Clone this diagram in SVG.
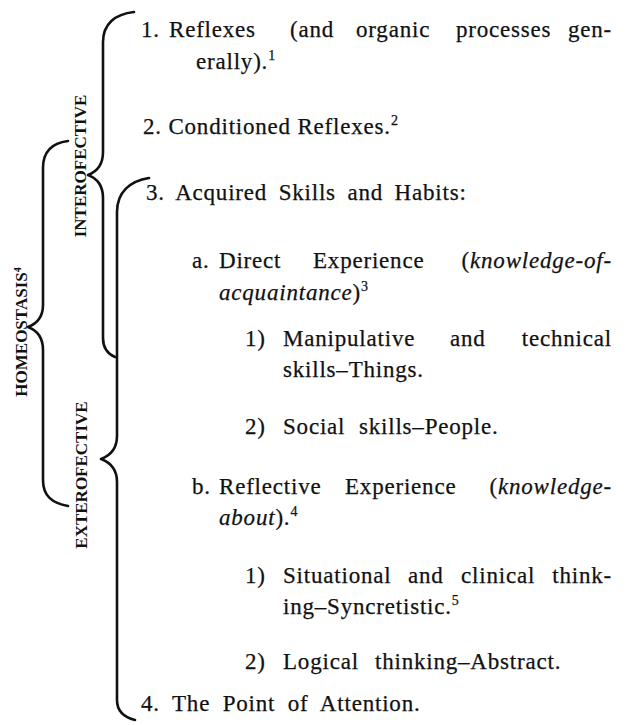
<svg xmlns="http://www.w3.org/2000/svg" width="631" height="725" viewBox="0 0 631 725">
  <style>
    .t { font-family: "Liberation Serif", "Times New Roman", serif; font-size: 23px; fill: #111; stroke: #111; stroke-width: 0.25px; letter-spacing: 0.8px; }
    .e { text-anchor: end; }
    .i { font-style: italic; }
    .sup { font-size: 14px; }
    .lab { font-family: "Liberation Serif", "Times New Roman", serif; font-size: 17px; font-weight: bold; fill: #111; text-anchor: middle; }
    .brace { fill: none; stroke: #111; stroke-width: 2.6; stroke-linecap: round; stroke-linejoin: round; }
  </style>
  <rect width="631" height="725" fill="#ffffff"/>

  <!-- braces grouping the outline -->
  <g id="connectors">
    <path id="brace-interofective" class="brace" d="M 134 12 C 115 14, 103 24, 103 42 L 103 152 C 103 166, 96 172, 88 175 C 96 178, 103 184, 103 198 L 103 338 C 103 348, 108 354, 115 357"/>
    <path id="brace-homeostasis" class="brace" d="M 68 141 C 52 143, 43 152, 43 168 L 43 305 C 43 318, 36 324, 28 327 C 36 330, 43 336, 43 350 L 43 480 C 43 496, 52 503, 68 506"/>
    <path id="brace-exterofective" class="brace" d="M 149 178 C 130 181, 117 192, 117 212 L 117 436 C 117 450, 109 456, 101 459 C 109 462, 117 468, 117 482 L 117 700 C 117 711, 123 717, 135 720"/>
  </g>

  <!-- group labels -->
  <g id="homeostasis">
    <text class="lab" transform="translate(27,332) rotate(-90)">HOMEOSTASIS<tspan dy="-6" font-size="10">4</tspan></text>
  </g>
  <g id="interofective">
    <text class="lab" transform="translate(86,166) rotate(-90)">INTEROFECTIVE</text>
  </g>
  <g id="exterofective">
    <text class="lab" transform="translate(87,475) rotate(-90)">EXTEROFECTIVE</text>
  </g>

  <!-- 1 -->
  <g id="item-1">
    <text class="t" y="37"><tspan x="141">1.</tspan><tspan x="169">Reflexes</tspan><tspan x="290">(and</tspan><tspan x="356">organic</tspan><tspan x="456">processes</tspan></text>
    <text class="t e" x="612" y="37">gen-</text>
    <text class="t" x="196" y="69">erally).<tspan class="sup" dy="-9">1</tspan></text>
  </g>

  <!-- 2 -->
  <g id="item-2">
    <text class="t" x="143" y="134">2. Conditioned Reflexes.<tspan class="sup" dy="-9">2</tspan></text>
  </g>

  <!-- 3 -->
  <g id="item-3">
    <text class="t" x="146" y="200" word-spacing="5">3. Acquired Skills and Habits:</text>
  </g>

  <g id="item-3a">
    <text class="t" y="268"><tspan x="192">a.</tspan><tspan x="219">Direct</tspan><tspan x="313">Experience</tspan></text>
    <text class="t e" x="612" y="268">(<tspan class="i">knowledge-of-</tspan></text>
    <text class="t" x="219" y="300"><tspan class="i">acquaintance</tspan>)<tspan class="sup" dy="-9">3</tspan></text>
  </g>

  <g id="item-3a1">
    <text class="t" y="346"><tspan x="245">1)</tspan><tspan x="283">Manipulative</tspan><tspan x="450">and</tspan></text>
    <text class="t e" x="612" y="346">technical</text>
    <text class="t" x="283" y="377">skills–Things.</text>
  </g>

  <g id="item-3a2">
    <text class="t" y="434"><tspan x="245">2)</tspan><tspan x="283">Social</tspan><tspan x="359">skills–People.</tspan></text>
  </g>

  <g id="item-3b">
    <text class="t" y="494"><tspan x="192">b.</tspan><tspan x="219">Reflective</tspan><tspan x="345">Experience</tspan></text>
    <text class="t e" x="612" y="494">(<tspan class="i">knowledge-</tspan></text>
    <text class="t" x="219" y="525"><tspan class="i">about</tspan>).<tspan class="sup" dy="-9">4</tspan></text>
  </g>

  <g id="item-3b1">
    <text class="t" y="583"><tspan x="245">1)</tspan><tspan x="283">Situational</tspan><tspan x="408">and</tspan><tspan x="461">clinical</tspan></text>
    <text class="t e" x="612" y="583">think-</text>
    <text class="t" x="283" y="614">ing–Syncretistic.<tspan class="sup" dy="-9">5</tspan></text>
  </g>

  <g id="item-3b2">
    <text class="t" y="669"><tspan x="245">2)</tspan><tspan x="283">Logical</tspan><tspan x="375">thinking–Abstract.</tspan></text>
  </g>

  <!-- 4 -->
  <g id="item-4">
    <text class="t" x="141" y="711" word-spacing="6">4. The Point of Attention.</text>
  </g>
</svg>
